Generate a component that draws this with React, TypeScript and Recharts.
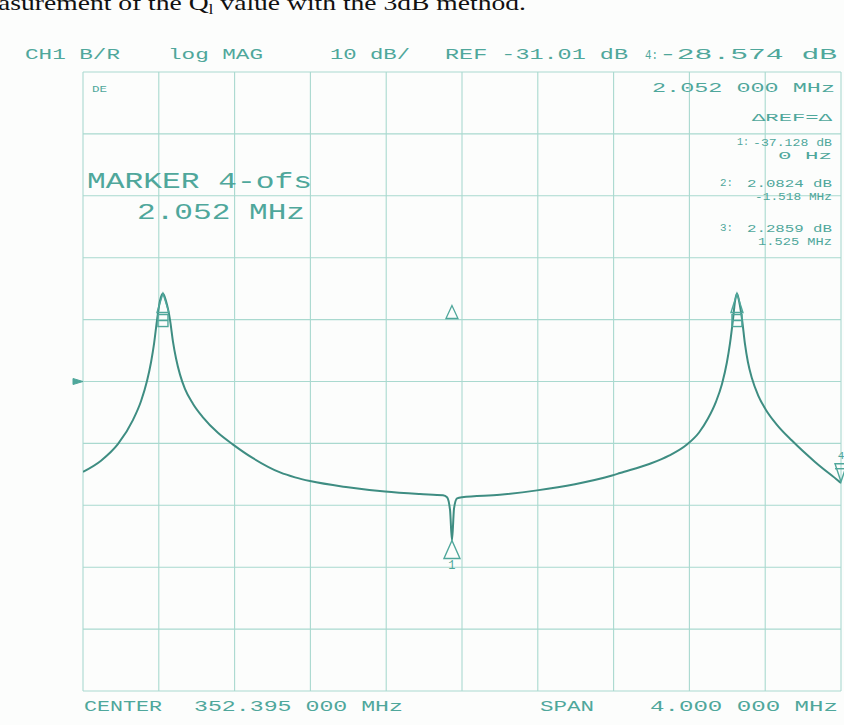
import React from 'react';
import { LineChart, Line, XAxis, YAxis, CartesianGrid, ReferenceDot } from 'recharts';

const freqOffsetsMHz = [
  -2.0, -1.905, -1.815, -1.736, -1.694, -1.662, -1.641, -1.625, -1.609, -1.594,
  -1.578, -1.562, -1.541, -1.525, -1.509, -1.488, -1.462, -1.42, -1.367, -1.288,
  -1.208, -1.103, -0.96, -0.881, -0.802, -0.602, -0.406, -0.222, -0.1, -0.079,
  -0.063, -0.053, -0.042, -0.026, 0.0, 0.2, 0.396, 0.596, 0.792, 0.834,
  0.992, 1.092, 1.187, 1.251, 1.298, 1.34, 1.372, 1.398, 1.414, 1.43,
  1.441, 1.451, 1.462, 1.478, 1.493, 1.509, 1.53, 1.562, 1.604, 1.662,
  1.741, 1.863, 1.984, 2.0,
];
const traceDb = [
  -45.6, -43.8, -41.1, -37.2, -34.2, -30.9, -27.9, -24.9, -21.0, -18.0,
  -16.8, -18.0, -21.0, -24.6, -27.3, -29.9, -32.2, -34.6, -36.8, -39.3,
  -41.2, -43.4, -45.7, -46.5, -47.1, -48.1, -48.8, -49.2, -49.4, -49.7,
  -51.8, -56.7, -51.5, -49.9, -49.7, -49.3, -48.6, -47.6, -46.2, -45.8,
  -44.3, -43.0, -41.2, -39.25, -37.0, -34.3, -31.4, -27.9, -24.9, -21.0,
  -18.0, -16.8, -18.0, -21.0, -24.9, -27.9, -30.5, -33.2, -35.6, -38.0,
  -40.55, -44.0, -47.0, -47.4,
];

const xTicks = [-2, -1.6, -1.2, -0.8, -0.4, 0, 0.4, 0.8, 1.2, 1.6, 2];
const refLevelDb = -31.01;
const dbPerDiv = 10;
const yTicks = [-5, -4, -3, -2, -1, 0, 1, 2, 3, 4, 5].map((k) => refLevelDb + k * dbPerDiv);

const markerIds = ['1', '2', '3', '4'];
const markerFreqs = [-0.053, -1.578, 1.451, 2.0];
const markerDbs = [-56.7, -16.8, -16.8, -47.2];
const deltaRefFreq = -0.053;
const deltaRefDb = -19.86;

const headerTexts = ['CH1 B/R', 'log MAG', '10 dB/', 'REF -31.01 dB', '4:', '-28.574 dB'];
const markerReadout = [
  '2.052 000 MHz', '\u0394REF=\u0394',
  '1:', '-37.128 dB', '0 Hz',
  '2:', '2.0824 dB', '-1.518 MHz',
  '3:', '2.2859 dB', '1.525 MHz',
];
const footerTexts = ['CENTER', '352.395 000 MHz', 'SPAN', '4.000 000 MHz'];
const markerFunction = ['MARKER 4-ofs', '2.052 MHz'];

const data = freqOffsetsMHz.map((f, i) => ({ f, db: traceDb[i] }));

const TEAL = '#4fa79b';
const TRACE = '#3e8d82';
const GRID = '#a9d9cf';
const FONT = '"Liberation Mono", "DejaVu Sans Mono", monospace';

function T({ x, y, w, s = 13, children, fill = TEAL }: any) {
  return (
    <text
      x={x}
      y={y}
      fontSize={s}
      fontFamily={FONT}
      fill={fill}
      dominantBaseline="central"
      textLength={w}
      lengthAdjust="spacingAndGlyphs"
    >
      {children}
    </text>
  );
}

function MarkerGlyph(props: any) {
  const { cx, cy, id } = props;
  if (cx == null || cy == null) return null;
  if (id === '4') {
    return (
      <g stroke={TEAL} fill="none" strokeWidth={1.4}>
        <path d={`M${cx},${cy} L${cx - 6},${cy - 18} L${cx + 6},${cy - 18} Z`} />
        <line x1={cx - 6} y1={cy - 13} x2={cx + 6} y2={cy - 13} />
        <text x={cx} y={cy - 26} fontSize={11} fontFamily={FONT} fill={TEAL} stroke="none" textAnchor="middle" dominantBaseline="central">4</text>
      </g>
    );
  }
  if (id === '1') {
    return (
      <g stroke={TEAL} fill="none" strokeWidth={1.4}>
        <path d={`M${cx},${cy} L${cx - 8},${cy + 18} L${cx + 8},${cy + 18} Z`} />
        <text x={cx} y={cy + 25} fontSize={12} fontFamily={FONT} fill={TEAL} stroke="none" textAnchor="middle" dominantBaseline="central">1</text>
      </g>
    );
  }
  return (
    <g stroke={TEAL} fill="none" strokeWidth={1.4}>
      <path d={`M${cx},${cy} L${cx - 6},${cy + 19} L${cx + 6},${cy + 19} Z`} />
      <rect x={cx - 5} y={cy + 21} width={10} height={12} />
      <line x1={cx - 5} y1={cy + 27} x2={cx + 5} y2={cy + 27} />
    </g>
  );
}

function DeltaGlyph(props: any) {
  const { cx, cy } = props;
  if (cx == null || cy == null) return null;
  return (
    <path d={`M${cx},${cy - 7} L${cx - 6},${cy + 6} L${cx + 6},${cy + 6} Z`} stroke={TEAL} strokeWidth={1.3} fill="none" />
  );
}

function RefPointer(props: any) {
  const { cx, cy } = props;
  if (cx == null || cy == null) return null;
  return <path d={`M${cx - 10},${cy - 3} L${cx},${cy} L${cx - 10},${cy + 3} Z`} fill={TEAL} stroke={TEAL} strokeWidth={1} />;
}

export default function App() {
  return (
    <div style={{ position: 'absolute', left: 0, top: 0, width: 844, height: 725, background: '#fcfdfc', overflow: 'hidden' }}>
      <LineChart width={844} height={725} data={data} margin={{ top: 72, right: 3, bottom: 34, left: 83 }}>
        <XAxis type="number" dataKey="f" domain={[-2, 2]} ticks={xTicks} hide allowDataOverflow />
        <YAxis type="number" domain={[yTicks[0], yTicks[yTicks.length - 1]]} ticks={yTicks} hide allowDataOverflow />
        <CartesianGrid stroke={GRID} strokeWidth={1.1} />
        <Line type="monotone" dataKey="db" stroke={TRACE} strokeWidth={2} dot={false} isAnimationActive={false} />
        <ReferenceDot x={xTicks[0]} y={refLevelDb} r={3} ifOverflow="visible" shape={(p: any) => <RefPointer {...p} />} />
        <ReferenceDot x={deltaRefFreq} y={deltaRefDb} r={6} ifOverflow="visible" shape={(p: any) => <DeltaGlyph {...p} />} />
        {markerIds.map((id, i) => (
          <ReferenceDot
            key={id}
            x={markerFreqs[i]}
            y={markerDbs[i]}
            r={6}
            ifOverflow="visible"
            shape={(p: any) => <MarkerGlyph {...p} id={id} />}
          />
        ))}
      </LineChart>
      <svg width={844} height={725} style={{ position: 'absolute', left: 0, top: 0, pointerEvents: 'none' }}>
        <text x={-2} y={10} fontSize={22} fontFamily='"Liberation Serif", serif' fill="#111" textLength={528} lengthAdjust="spacingAndGlyphs">
          asurement of the Q<tspan fontSize={14} dy={4}>l</tspan><tspan dy={-4}> value with the 3dB method.</tspan>
        </text>
        <T x={25} y={55} w={95} s={14}>{headerTexts[0]}</T>
        <T x={168} y={55} w={95} s={14}>{headerTexts[1]}</T>
        <T x={330} y={55} w={80} s={14}>{headerTexts[2]}</T>
        <T x={445} y={55} w={183} s={14}>{headerTexts[3]}</T>
        <T x={645} y={55} w={13} s={13}>{headerTexts[4]}</T>
        <T x={659} y={55} w={178} s={14}>{headerTexts[5]}</T>

        <T x={92} y={90} w={15} s={9}>DE</T>

        <T x={652} y={88} w={183} s={13}>{markerReadout[0]}</T>
        <T x={752} y={118} w={80} s={11}>{markerReadout[1]}</T>
        <T x={737} y={142} w={12} s={11}>{markerReadout[2]}</T>
        <T x={753} y={142} w={79} s={11.5}>{markerReadout[3]}</T>
        <T x={778} y={155} w={54} s={11.5}>{markerReadout[4]}</T>
        <T x={720} y={183} w={13} s={11}>{markerReadout[5]}</T>
        <T x={747} y={183} w={85} s={11.5}>{markerReadout[6]}</T>
        <T x={755} y={196} w={77} s={11.5}>{markerReadout[7]}</T>
        <T x={720} y={228} w={13} s={11}>{markerReadout[8]}</T>
        <T x={747} y={228} w={85} s={11.5}>{markerReadout[9]}</T>
        <T x={758} y={241} w={74} s={11.5}>{markerReadout[10]}</T>

        <T x={87} y={182} w={225} s={22}>{markerFunction[0]}</T>
        <T x={137} y={213} w={168} s={22}>{markerFunction[1]}</T>

        <T x={84} y={707} w={78} s={14}>{footerTexts[0]}</T>
        <T x={194} y={707} w={209} s={14}>{footerTexts[1]}</T>
        <T x={540} y={707} w={54} s={14}>{footerTexts[2]}</T>
        <T x={650} y={707} w={188} s={14}>{footerTexts[3]}</T>
      </svg>
    </div>
  );
}
